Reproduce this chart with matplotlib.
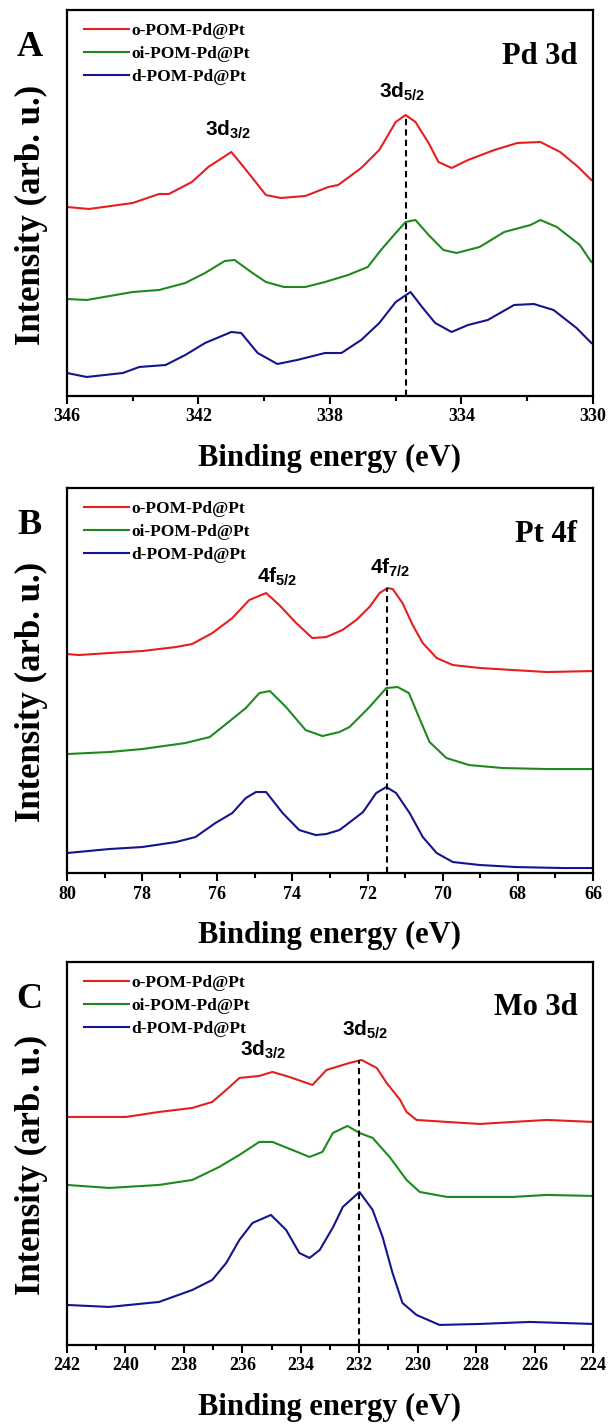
import numpy as np
import matplotlib
matplotlib.use("Agg")
import matplotlib.pyplot as plt

plt.rcParams['font.family'] = ['Liberation Serif', 'DejaVu Serif']
plt.rcParams['font.weight'] = 'bold'
plt.rcParams['mathtext.fontset'] = 'custom'
plt.rcParams['mathtext.rm'] = 'Liberation Sans:bold'
plt.rcParams['mathtext.default'] = 'rm'

labels = ['o-POM-Pd@Pt', 'oi-POM-Pd@Pt', 'd-POM-Pd@Pt']
colors = ['#e61e1e', '#1e8a1e', '#14148c']

# === Pd 3d ===
pd_e_o = [346, 345.33, 344, 343.2, 342.9, 342.2, 341.7, 341.0, 340.6, 339.95, 339.5, 338.75, 338.05, 337.75,
          337.05, 336.5, 336.0, 335.7, 335.4, 335.0, 334.7, 334.3, 333.8, 333.0, 332.3, 331.6, 331.0, 330.45, 330.05]
pd_i_o = [189, 187, 193, 202, 202, 214, 229, 244, 228, 201, 198, 200, 209, 211,
          228, 246, 274, 281, 274, 253, 234, 228, 236, 246, 253, 254, 244, 229, 216]
pd_e_oi = [346, 345.4, 344, 343.2, 342.4, 341.8, 341.2, 340.9, 340.4, 339.95, 339.4, 338.75, 338.15, 337.45,
           336.85, 336.45, 336.0, 335.7, 335.4, 335.0, 334.55, 334.15, 333.45, 332.7, 331.9, 331.6, 331.1, 330.4, 330.05]
pd_i_oi = [97, 96, 104, 106, 113, 123, 135, 136, 124, 114, 109, 109, 114, 121,
           129, 146, 163, 174, 176, 161, 146, 143, 149, 164, 171, 176, 169, 151, 134]
pd_e_d = [346, 345.4, 344.3, 343.8, 343.0, 342.4, 341.8, 341.0, 340.7, 340.2, 339.6, 339.0, 338.15, 337.65,
          337.05, 336.5, 336.0, 335.55, 335.2, 334.8, 334.3, 333.8, 333.2, 332.4, 331.8, 331.2, 330.5, 330.05]
pd_i_d = [23, 19, 23, 29, 31, 41, 53, 64, 63, 43, 32, 36, 43, 43,
          56, 73, 94, 104, 89, 73, 64, 71, 76, 91, 92, 86, 68, 53]

# === Pt 4f ===
pt_e_o = [80, 79.68, 78.88, 78.0, 77.1, 76.67, 76.13, 75.6, 75.15, 74.7, 74.35, 73.9, 73.47, 73.1, 72.67,
          72.3, 71.95, 71.68, 71.47, 71.33, 71.07, 70.8, 70.53, 70.16, 69.73, 69.0, 68.13, 67.23, 66.0]
pt_i_o = [219, 218, 220, 222, 226, 229, 240, 255, 273, 280, 268, 250, 235, 236, 243,
          253, 266, 280, 285, 284, 270, 248, 230, 215, 208, 205, 203, 201, 202]
pt_e_oi = [80, 78.88, 78.0, 76.85, 76.2, 75.8, 75.24, 74.88, 74.6, 74.17, 73.65, 73.2, 72.75, 72.48,
           71.95, 71.5, 71.2, 70.9, 70.6, 70.35, 69.9, 69.3, 68.4, 67.23, 66.0]
pt_i_oi = [119, 121, 124, 130, 136, 148, 165, 180, 182, 166, 143, 137, 141, 146,
           166, 185, 186, 180, 153, 131, 115, 108, 105, 104, 104]
pt_e_d = [80, 78.88, 78.0, 77.1, 76.58, 76.05, 75.6, 75.24, 74.97, 74.7, 74.26, 73.82, 73.38, 73.1, 72.75,
          72.57, 72.12, 71.77, 71.5, 71.24, 70.88, 70.53, 70.16, 69.73, 69.0, 68.05, 66.8, 66.0]
pt_i_d = [20, 24, 26, 31, 36, 50, 60, 75, 81, 81, 60, 43, 38, 39, 43,
          48, 61, 80, 86, 80, 60, 36, 20, 11, 8, 6, 5, 5]

# === Mo 3d ===
mo_e_o = [242, 241.14, 239.98, 238.85, 237.71, 237.03, 236.55, 236.1, 235.42, 234.97, 234.39, 233.8, 233.6,
          233.12, 232.78, 232.33, 231.92, 231.4, 231.06, 230.6, 230.38, 230.04, 229.0, 227.87, 226.74, 225.58, 224.0]
mo_i_o = [228, 228, 228, 233, 237, 243, 255, 267, 269, 273, 268, 262, 260,
          275, 278, 282, 285, 277, 262, 245, 233, 225, 223, 221, 223, 225, 223]
mo_e_oi = [242, 240.56, 238.85, 237.71, 236.79, 236.1, 235.42, 234.97, 234.29, 233.7, 233.26, 232.9, 232.4,
           231.99, 231.54, 230.96, 230.38, 229.93, 229.0, 227.87, 226.74, 225.58, 224.0]
mo_i_oi = [160, 157, 160, 165, 178, 190, 203, 203, 195, 188, 193, 212, 219,
           212, 207, 188, 165, 153, 148, 148, 148, 150, 149]
mo_e_d = [242, 240.56, 238.85, 237.71, 237.03, 236.55, 236.1, 235.65, 235.02, 234.5, 234.05, 233.7, 233.35,
          232.89, 232.56, 231.99, 231.54, 231.2, 230.86, 230.52, 230.04, 229.25, 227.87, 226.16, 224.0]
mo_i_d = [40, 38, 43, 55, 65, 82, 105, 122, 130, 115, 92, 87, 95,
          118, 138, 153, 135, 108, 72, 42, 30, 20, 21, 23, 21]

panels = [
    dict(tag='A', core='Pd 3d', xlim=(346, 330), ylim=386, major=4, minor=2,
         e=[pd_e_o, pd_e_oi, pd_e_d], i=[pd_i_o, pd_i_oi, pd_i_d],
         dash=(335.7, 281), peaks=[('3d$_{3/2}$', 341.1, 266), ('3d$_{5/2}$', 335.8, 304)],
         rect=[0.1098, 0.7225, 0.8623, 0.2705]),
    dict(tag='B', core='Pt 4f', xlim=(80, 66), ylim=385, major=2, minor=1,
         e=[pt_e_o, pt_e_oi, pt_e_d], i=[pt_i_o, pt_i_oi, pt_i_d],
         dash=(71.47, 285), peaks=[('4f$_{5/2}$', 74.4, 296), ('4f$_{7/2}$', 71.4, 305)],
         rect=[0.1098, 0.3882, 0.8623, 0.2698]),
    dict(tag='C', core='Mo 3d', xlim=(242, 224), ylim=383, major=2, minor=1,
         e=[mo_e_o, mo_e_oi, mo_e_d], i=[mo_i_o, mo_i_oi, mo_i_d],
         dash=(232.0, 285), peaks=[('3d$_{3/2}$', 235.3, 295), ('3d$_{5/2}$', 231.8, 315)],
         rect=[0.1098, 0.0575, 0.8623, 0.2684]),
]

fig = plt.figure(figsize=(6.1, 14.27), dpi=100)

for p in panels:
    ax = fig.add_axes(p['rect'])
    for e, i, c, lab in zip(p['e'], p['i'], colors, labels):
        ax.plot(e, i, color=c, lw=1.5, label=lab)
    ax.plot([p['dash'][0]] * 2, [0, p['dash'][1]], 'k--', lw=1.5, dashes=(3, 2))
    ax.set_xlim(*p['xlim'])
    ax.set_ylim(0, p['ylim'])
    ax.set_xticks(np.arange(p['xlim'][1], p['xlim'][0] + 0.1, p['major']))
    ax.set_xticks(np.arange(p['xlim'][1], p['xlim'][0] + 0.1, p['minor']), minor=True)
    ax.set_yticks([])
    for s in ax.spines.values():
        s.set_linewidth(1.6)
    ax.tick_params(axis='x', which='major', direction='out', length=6, width=1.5, labelsize=13, pad=3)
    ax.tick_params(axis='x', which='minor', direction='out', length=3.5, width=1.5)
    ax.set_xlabel('Binding energy (eV)', fontsize=22, fontweight='bold', labelpad=13)
    ax.set_ylabel('Intensity (arb. u.)', fontsize=25, fontweight='bold')
    ax.yaxis.set_label_coords(-0.036, 0.47)
    leg = ax.legend(loc='upper left', bbox_to_anchor=(0.0, 1.012), frameon=False,
                    prop={'family': 'Liberation Serif', 'weight': 'bold', 'size': 12.5},
                    handlelength=2.6, handletextpad=0.1, labelspacing=0.4, borderaxespad=0.6)
    ax.text(0.97, 0.88, p['core'], transform=ax.transAxes, ha='right', va='center',
            fontsize=22, fontweight='bold')
    for txt, x, y in p['peaks']:
        ax.text(x, y, txt, ha='center', va='center', fontsize=15, family='Liberation Sans', fontweight='bold')
    fig.text(0.048, p['rect'][1] + p['rect'][3] - 0.026, p['tag'], ha='center', va='center',
             fontsize=26, fontweight='bold')

fig.savefig('out.png', dpi=100)
